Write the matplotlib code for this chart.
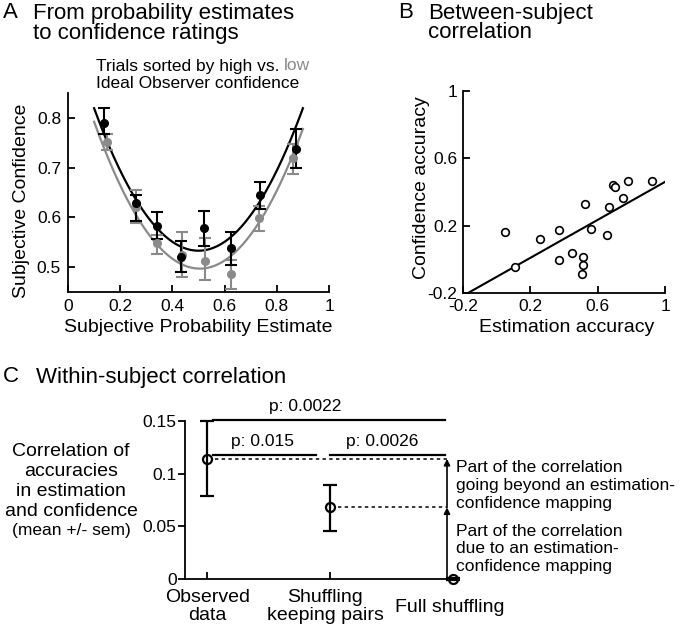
import numpy as np
import matplotlib
matplotlib.use("Agg")
import matplotlib.pyplot as plt
import matplotlib.transforms as mtransforms

plt.rcParams['font.family'] = ['Liberation Sans', 'DejaVu Sans']

# ---------------- Data ----------------
# Panel A: high vs low Ideal Observer confidence
hi_x = [0.138, 0.26, 0.34, 0.433, 0.522, 0.623, 0.735, 0.873]
hi_y = [0.789, 0.629, 0.583, 0.521, 0.578, 0.538, 0.645, 0.738]
hi_lower = [0.767, 0.593, 0.556, 0.491, 0.543, 0.505, 0.617, 0.700]
hi_upper = [0.820, 0.645, 0.610, 0.552, 0.613, 0.570, 0.671, 0.778]
lo_x = [0.148, 0.26, 0.34, 0.435, 0.525, 0.625, 0.733, 0.863]
lo_y = [0.752, 0.620, 0.548, 0.525, 0.513, 0.486, 0.599, 0.720]
lo_lower = [0.735, 0.588, 0.527, 0.481, 0.475, 0.457, 0.573, 0.687]
lo_upper = [0.767, 0.655, 0.565, 0.570, 0.559, 0.515, 0.623, 0.747]
# quadratic fits: (curvature, center, minimum), over x range
hi_fit = (1.79, 0.5, 0.533)
lo_fit = (1.80, 0.505, 0.497)
fit_range = (0.1, 0.9)

# Panel B: between-subject
est_acc = [0.048, 0.111, 0.256, 0.369, 0.369, 0.447, 0.510, 0.514, 0.508, 0.522,
           0.558, 0.657, 0.667, 0.693, 0.704, 0.752, 0.780, 0.921]
conf_acc = [0.163, -0.047, 0.123, 0.173, -0.004, 0.038, 0.012, -0.031, -0.085, 0.328,
            0.179, 0.143, 0.312, 0.443, 0.429, 0.363, 0.465, 0.468]
reg_slope = 0.564
reg_intercept = -0.104
reg_range = (-0.17, 1.0)

# Panel C: within-subject
cond_labels = [["Observed", "data"], ["Shuffling", "keeping pairs"], ["Full shuffling"]]
cond_mean = [0.114, 0.068, 0.0]
cond_lower = [0.079, 0.046, -0.0012]
cond_upper = [0.150, 0.089, 0.0012]
p_labels = ["p: 0.0022", "p: 0.015", "p: 0.0026"]

GRAY = '#8a8a8a'
W, H = 680, 625

fig = plt.figure(figsize=(6.8, 6.25), dpi=100)

def fx(x):
    return x / W

def fy(y):
    return 1 - y / H

def style_axes(ax):
    for s in ['top', 'right']:
        ax.spines[s].set_visible(False)
    for s in ['left', 'bottom']:
        ax.spines[s].set_linewidth(1.3)

# ---------------- Panel A ----------------
axA = fig.add_axes([fx(68), fy(292), 261 / W, 199 / H])
style_axes(axA)
for xs, ys, lows, ups, col in [(lo_x, lo_y, lo_lower, lo_upper, GRAY),
                               (hi_x, hi_y, hi_lower, hi_upper, 'black')]:
    ys = np.array(ys)
    yerr = [ys - np.array(lows), np.array(ups) - ys]
    axA.errorbar(xs, ys, yerr=yerr, fmt='o', color=col, ms=5.5, lw=1.5,
                 capsize=4, capthick=1.5, zorder=3)
xx = np.linspace(fit_range[0], fit_range[1], 200)
for (a, c0, m), col in [(lo_fit, GRAY), (hi_fit, 'black')]:
    axA.plot(xx, a * (xx - c0) ** 2 + m, color=col, lw=1.6, zorder=2)
axA.set_xlim(0, 1)
axA.set_ylim(0.45, 0.85)
axA.set_xticks([0, 0.2, 0.4, 0.6, 0.8, 1])
axA.set_xticklabels(["0", "0.2", "0.4", "0.6", "0.8", "1"])
axA.set_yticks([0.5, 0.6, 0.7, 0.8])
axA.set_yticklabels(["0.5", "0.6", "0.7", "0.8"])
axA.tick_params(direction='in', length=5, width=1.3, labelsize=12.5, pad=5)
axA.spines['left'].set_bounds(0.45, 0.85)

fig.text(fx(3), fy(13), "A", fontsize=16, va='center', ha='left')
fig.text(fx(33), fy(13), "From probability estimates", fontsize=16, va='center', ha='left')
fig.text(fx(33), fy(33), "to confidence ratings", fontsize=16, va='center', ha='left')
t1 = fig.text(fx(96), fy(66), "Trials sorted by high vs.", fontsize=12.5, va='center', ha='left')
axA.annotate("low", xy=(1, 0), xycoords=t1, xytext=(3.5, 0), textcoords='offset points',
             fontsize=12.5, color=GRAY, va='bottom', ha='left', annotation_clip=False)
fig.text(fx(96), fy(83), "Ideal Observer confidence", fontsize=12.5, va='center', ha='left')
fig.text(fx(22), fy(201), "Subjective Confidence", fontsize=14, rotation=90,
         va='center', ha='center')
fig.text(fx(198), fy(328), "Subjective Probability Estimate", fontsize=14,
         va='center', ha='center')

# ---------------- Panel B ----------------
axB = fig.add_axes([fx(463), fy(293), 202 / W, 202 / H])
style_axes(axB)
axB.plot(est_acc, conf_acc, 'o', mfc='white', mec='black', mew=1.2, ms=5.5, zorder=3)
rx = np.array(reg_range)
axB.plot(rx, reg_slope * rx + reg_intercept, color='black', lw=1.5, zorder=2)
axB.set_xlim(-0.2, 1)
axB.set_ylim(-0.2, 1)
ticksB = [-0.2, 0.2, 0.6, 1]
labsB = ["-0.2", "0.2", "0.6", "1"]
axB.set_xticks(ticksB)
axB.set_xticklabels(labsB)
axB.set_yticks(ticksB)
axB.set_yticklabels(labsB)
axB.tick_params(direction='in', length=5, width=1.3, labelsize=12.5, pad=4)
fig.text(fx(398), fy(13), "B", fontsize=16, va='center', ha='left')
fig.text(fx(428), fy(13), "Between-subject", fontsize=16, va='center', ha='left')
fig.text(fx(428), fy(33), "correlation", fontsize=16, va='center', ha='left')
fig.text(fx(422), fy(188), "Confidence accuracy", fontsize=14, rotation=90,
         va='center', ha='center')
fig.text(fx(567), fy(328), "Estimation accuracy", fontsize=14, va='center', ha='center')

# ---------------- Panel C ----------------
axC = fig.add_axes([fx(185), fy(579), 262 / W, 158 / H])
style_axes(axC)
xc = np.arange(1, len(cond_mean) + 1)
cm = np.array(cond_mean)
yerrC = [cm - np.array(cond_lower), np.array(cond_upper) - cm]
axC.errorbar(xc, cm, yerr=yerrC, fmt='o', mfc='none', mec='black', mew=1.6,
             ms=6.5, color='black', lw=1.6, capsize=5, capthick=1.6,
             zorder=4, clip_on=False)
axC.set_xlim(0.82, 2.95)
axC.set_ylim(0, 0.15)
axC.set_yticks([0, 0.05, 0.1, 0.15])
axC.set_yticklabels(["0", "0.05", "0.1", "0.15"])
axC.set_xticks(xc[:2])
axC.set_xticklabels([])
axC.tick_params(axis='y', direction='out', length=5, width=1.3, labelsize=12.5, pad=1)
axC.tick_params(axis='x', direction='in', length=5, width=1.3)

xr = 2.95
# dashed reference lines
axC.plot([1.06, xr], [cond_mean[0]] * 2, ls=(0, (2.2, 2.2)), color='black', lw=1.1,
         clip_on=False)
axC.plot([2.06, xr], [cond_mean[1]] * 2, ls=(0, (2.2, 2.2)), color='black', lw=1.1,
         clip_on=False)
# arrows
arrow_kw = dict(arrowstyle='-|>', mutation_scale=9, lw=1.2, color='black',
                shrinkA=0, shrinkB=0)
axC.annotate("", xy=(xr, cond_mean[1]), xytext=(xr, 0), arrowprops=arrow_kw,
             annotation_clip=False)
axC.annotate("", xy=(xr, cond_mean[0]), xytext=(xr, cond_mean[1]), arrowprops=arrow_kw,
             annotation_clip=False)
# p-value bars
axC.plot([1.05, 2.93], [0.151, 0.151], color='black', lw=1.6, clip_on=False)
axC.plot([1.05, 1.886], [0.118, 0.118], color='black', lw=1.6, clip_on=False)
axC.plot([2.0, 2.93], [0.118, 0.118], color='black', lw=1.6, clip_on=False)
axC.text(1.80, 0.1635, p_labels[0], fontsize=12.5, ha='center', va='center')
axC.text(1.45, 0.1305, p_labels[1], fontsize=12.5, ha='center', va='center')
axC.text(2.42, 0.1305, p_labels[2], fontsize=12.5, ha='center', va='center')

# category labels
bt = mtransforms.blended_transform_factory(axC.transData, fig.transFigure)
axC.text(1, fy(598), cond_labels[0][0], transform=bt, fontsize=14, ha='center', va='center')
axC.text(1, fy(616), cond_labels[0][1], transform=bt, fontsize=14, ha='center', va='center')
axC.text(1.96, fy(598), cond_labels[1][0], transform=bt, fontsize=14, ha='center', va='center')
axC.text(1.96, fy(616), cond_labels[1][1], transform=bt, fontsize=14, ha='center', va='center')
axC.text(2.97, fy(607), cond_labels[2][0], transform=bt, fontsize=14, ha='center', va='center')

# annotations
for i, line in enumerate(["Part of the correlation", "going beyond an estimation-",
                          "confidence mapping"]):
    fig.text(fx(456), fy(468 + 17.6 * i), line, fontsize=12.5, ha='left', va='center')
for i, line in enumerate(["Part of the correlation", "due to an estimation-",
                          "confidence mapping"]):
    fig.text(fx(456), fy(531 + 17.6 * i), line, fontsize=12.5, ha='left', va='center')

# y label of C
for i, line in enumerate(["Correlation of", "accuracies", "in estimation",
                          "and confidence"]):
    fig.text(fx(71), fy(452 + 20 * i), line, fontsize=14, ha='center', va='center')
fig.text(fx(71), fy(531), "(mean +/- sem)", fontsize=12.5, ha='center', va='center')

fig.text(fx(3), fy(377), "C", fontsize=16, va='center', ha='left')
fig.text(fx(36), fy(377), "Within-subject correlation", fontsize=16, va='center', ha='left')

fig.savefig("out.png", dpi=100)
